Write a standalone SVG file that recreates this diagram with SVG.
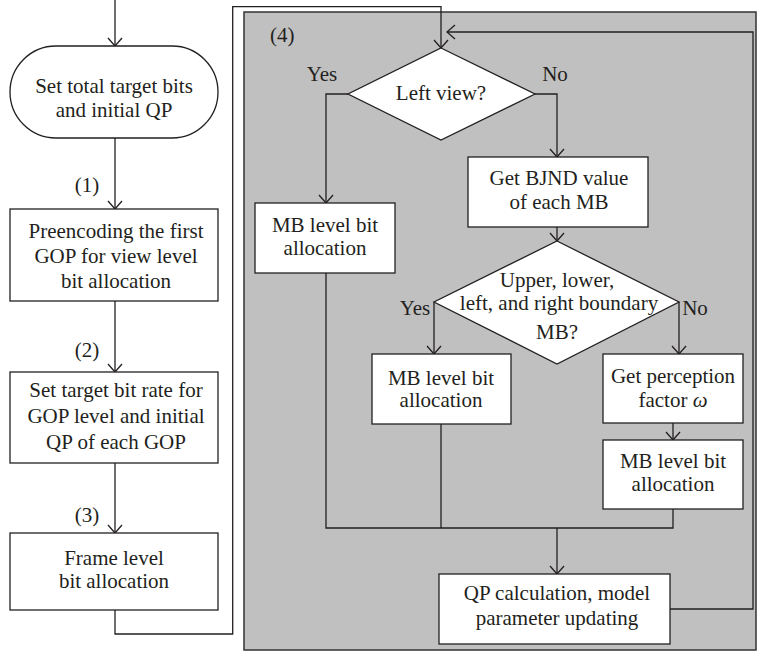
<svg xmlns="http://www.w3.org/2000/svg" width="757" height="654" viewBox="0 0 757 654">
<style>
text{font-family:"Liberation Serif","Times New Roman",serif;font-size:21px;fill:#231f20;text-anchor:middle}
.node{fill:#fff;stroke:#231f20;stroke-width:1.3}
.conn path{fill:none;stroke:#231f20;stroke-width:1.3}
</style>
<defs>
<marker id="arr" viewBox="-10 -9 12 18" refX="0" refY="0" markerWidth="12" markerHeight="18" markerUnits="userSpaceOnUse" orient="auto">
<path d="M-8,-7 L0,0 L-8,7" fill="none" stroke="#231f20" stroke-width="1.3"/>
</marker>
</defs>
<rect x="244" y="12" width="512" height="638" fill="#c0c0c0" stroke="#333" stroke-width="1.5"/>
<text x="270" y="42" style="text-anchor:start">(4)</text>
<g class="conn">
<path d="M115,0 V46" marker-end="url(#arr)"/>
<path d="M115,138 V209" marker-end="url(#arr)"/>
<path d="M115,301 V372" marker-end="url(#arr)"/>
<path d="M115,463 V533" marker-end="url(#arr)"/>
<path d="M115,610 V634 H232.7 V6.7 H441 V48" marker-end="url(#arr)"/>
<path d="M670,609 H753 V32 H447" marker-end="url(#arr)"/>
<path d="M348,94 H326 V203" marker-end="url(#arr)"/>
<path d="M535,94 H557 V157" marker-end="url(#arr)"/>
<path d="M557,227 V241" marker-end="url(#arr)"/>
<path d="M434,302 V354" marker-end="url(#arr)"/>
<path d="M679,302 V354" marker-end="url(#arr)"/>
<path d="M673,423 V440" marker-end="url(#arr)"/>
<path d="M326,273 V528 H673 V509"/>
<path d="M441,424 V528"/>
<path d="M557,528 V574" marker-end="url(#arr)"/>
</g>
<text x="87" y="192">(1)</text>
<text x="87" y="357">(2)</text>
<text x="87" y="522">(3)</text>
<text x="322" y="81">Yes</text>
<text x="555" y="81">No</text>
<text x="415" y="315">Yes</text>
<text x="695" y="315">No</text>
<g id="start">
<rect class="node" x="10" y="46" width="208" height="92" rx="46" ry="46"/>
<text x="114" y="93">Set total target bits</text>
<text x="114" y="117">and initial QP</text>
</g>
<g id="preencode">
<rect class="node" x="10" y="209" width="208" height="92"/>
<text x="116" y="238">Preencoding the first</text>
<text x="116" y="263">GOP for view level</text>
<text x="116" y="288">bit allocation</text>
</g>
<g id="gop">
<rect class="node" x="10" y="372" width="208" height="91"/>
<text x="116" y="397">Set target bit rate for</text>
<text x="116" y="423">GOP level and initial</text>
<text x="116" y="449">QP of each GOP</text>
</g>
<g id="frame">
<rect class="node" x="10" y="533" width="208" height="77"/>
<text x="114" y="565">Frame level</text>
<text x="114" y="588">bit allocation</text>
</g>
<g id="leftview">
<polygon class="node" points="441,48 535,94 441,140 348,94"/>
<text x="441" y="100">Left view?</text>
</g>
<g id="mb1">
<rect class="node" x="255" y="203" width="140" height="70"/>
<text x="325" y="232">MB level bit</text>
<text x="325" y="255">allocation</text>
</g>
<g id="bjnd">
<rect class="node" x="468" y="157" width="180" height="70"/>
<text x="559" y="185">Get BJND value</text>
<text x="559" y="209">of each MB</text>
</g>
<g id="boundary">
<polygon class="node" points="557,241 679,302 557,364 434,302"/>
<text x="557" y="287">Upper, lower,</text>
<text x="559" y="310">left, and right boundary</text>
<text x="557" y="339">MB?</text>
</g>
<g id="mb2">
<rect class="node" x="372" y="354" width="139" height="70"/>
<text x="441" y="385">MB level bit</text>
<text x="441" y="407">allocation</text>
</g>
<g id="perception">
<rect class="node" x="603" y="354" width="140" height="69"/>
<text x="673" y="383">Get perception</text>
<text x="673" y="407">factor <tspan font-style="italic">ω</tspan></text>
</g>
<g id="mb3">
<rect class="node" x="603" y="440" width="140" height="69"/>
<text x="673" y="468">MB level bit</text>
<text x="673" y="491">allocation</text>
</g>
<g id="qp">
<rect class="node" x="439" y="574" width="231" height="70"/>
<text x="557" y="600">QP calculation, model</text>
<text x="557" y="625">parameter updating</text>
</g>
</svg>
